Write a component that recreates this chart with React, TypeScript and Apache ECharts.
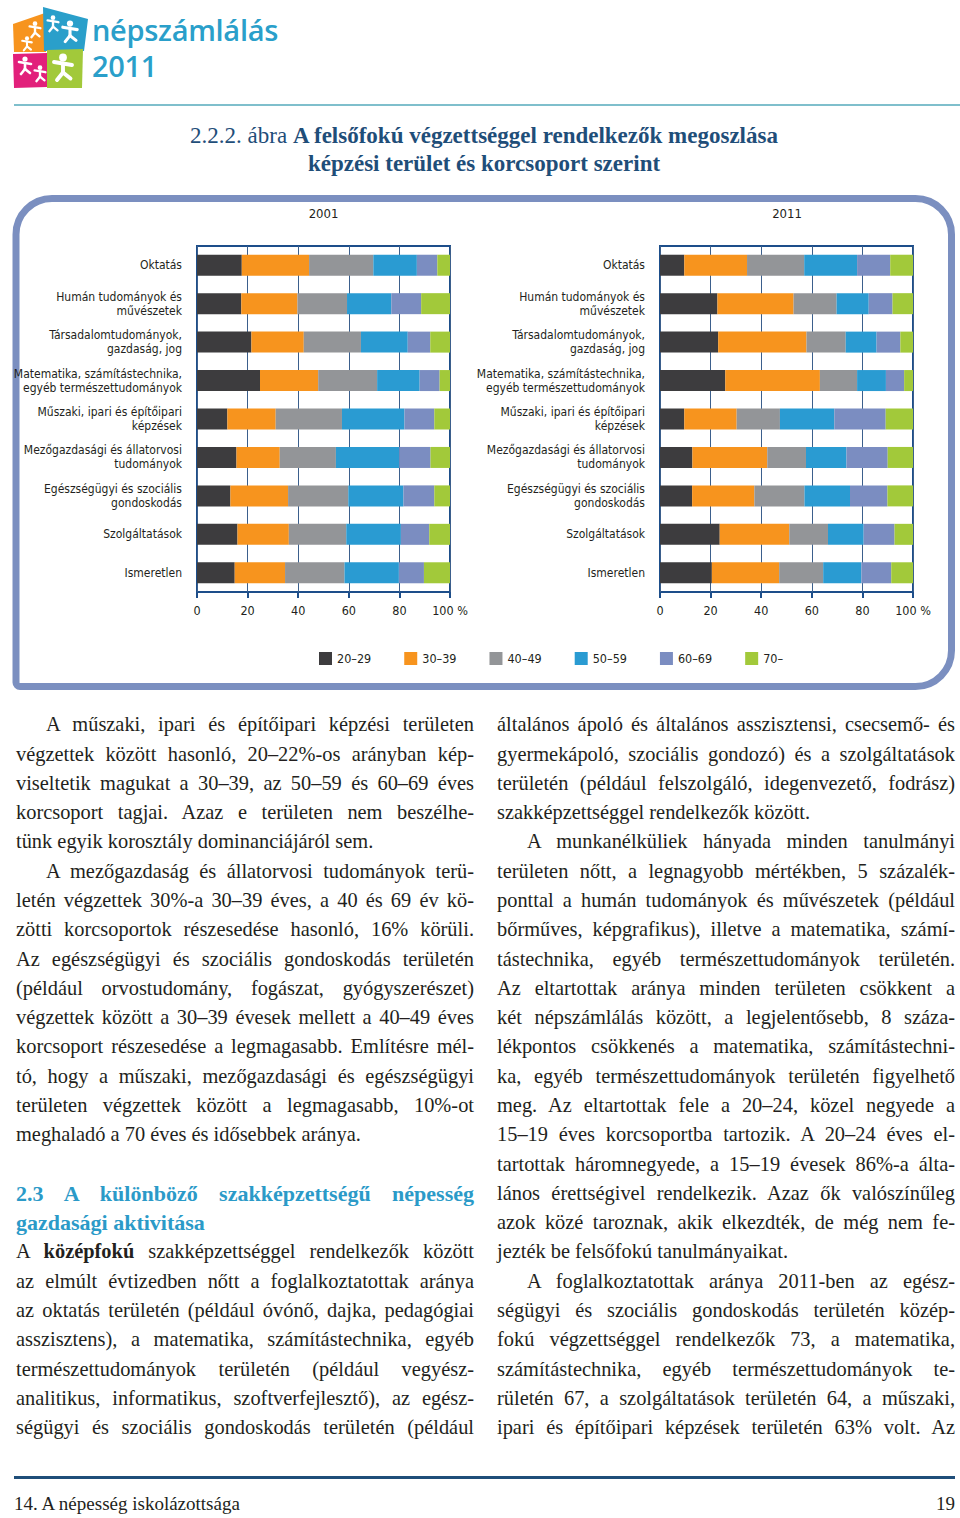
import React, { useEffect, useRef } from "react";
import * as echarts from "echarts";

// ---------- DATA ----------
const categories = [
  "Oktatás",
  "Humán tudományok és\nművészetek",
  "Társadalomtudományok,\ngazdaság, jog",
  "Matematika, számítástechnika,\negyéb természettudományok",
  "Műszaki, ipari és építőipari\nképzések",
  "Mezőgazdasági és állatorvosi\ntudományok",
  "Egészségügyi és szociális\ngondoskodás",
  "Szolgáltatások",
  "Ismeretlen",
];
const ageGroups = ["20–29", "30–39", "40–49", "50–59", "60–69", "70–"];
const years = ["2001", "2011"];
const xTicks = [0, 20, 40, 60, 80, 100];

const y2001_20_29 = [17.7, 17.5, 21.5, 24.9, 12.0, 15.6, 13.2, 16.0, 14.9];
const y2001_30_39 = [26.6, 22.2, 20.7, 23.0, 19.1, 17.1, 22.8, 20.3, 19.9];
const y2001_40_49 = [25.4, 19.6, 22.6, 23.3, 26.2, 22.2, 23.8, 22.7, 23.5];
const y2001_50_59 = [17.2, 17.5, 18.5, 16.8, 24.7, 25.0, 21.8, 21.6, 21.5];
const y2001_60_69 = [8.1, 11.8, 8.9, 7.9, 11.8, 12.4, 12.2, 11.2, 9.9];
const y2001_70 = [5.0, 11.4, 7.8, 4.1, 6.2, 7.7, 6.2, 8.2, 10.3];

const y2011_20_29 = [9.6, 22.7, 23.0, 25.8, 9.6, 12.8, 12.7, 23.6, 20.5];
const y2011_30_39 = [24.8, 30.1, 34.9, 37.4, 20.7, 29.6, 24.6, 27.5, 26.6];
const y2011_40_49 = [22.6, 17.0, 15.5, 14.7, 17.1, 15.3, 19.8, 15.3, 17.4];
const y2011_50_59 = [20.9, 12.7, 12.2, 11.4, 21.5, 16.0, 18.0, 14.1, 15.1];
const y2011_60_69 = [13.1, 9.4, 9.4, 7.2, 20.3, 16.3, 14.8, 12.2, 11.8];
const y2011_70 = [9.0, 8.1, 5.0, 3.5, 10.8, 10.0, 10.1, 7.3, 8.6];

const data2001 = [y2001_20_29, y2001_30_39, y2001_40_49, y2001_50_59, y2001_60_69, y2001_70];
const data2011 = [y2011_20_29, y2011_30_39, y2011_40_49, y2011_50_59, y2011_60_69, y2011_70];

// ---------- STYLE ----------
const colors = ["#3d3c3e", "#f7941e", "#939598", "#2a9bd2", "#7b8dc1", "#a2c93a"];
const COND = "'Liberation Sans Narrow', 'DejaVu Sans Condensed', 'Roboto Condensed', sans-serif";
const SERIF = "'Liberation Serif', 'DejaVu Serif', serif";
const TEXT = "#231f20";
const DARKBLUE = "#1d4e8a";

// ---------- BODY TEXT ----------
type Line = { t: string; indent?: boolean; last?: boolean; head?: boolean; slot: number };

const leftLines: Line[] = [
  { slot: 0, t: "A műszaki, ipari és építőipari képzési területen", indent: true },
  { slot: 1, t: "végzettek között hasonló, 20–22%-os arányban kép-" },
  { slot: 2, t: "viseltetik magukat a 30–39, az 50–59 és 60–69 éves" },
  { slot: 3, t: "korcsoport tagjai. Azaz e területen nem beszélhe-" },
  { slot: 4, t: "tünk egyik korosztály dominanciájáról sem.", last: true },
  { slot: 5, t: "A mezőgazdaság és állatorvosi tudományok terü-", indent: true },
  { slot: 6, t: "letén végzettek 30%-a 30–39 éves, a 40 és 69 év kö-" },
  { slot: 7, t: "zötti korcsoportok részesedése hasonló, 16% körüli." },
  { slot: 8, t: "Az egészségügyi és szociális gondoskodás területén" },
  { slot: 9, t: "(például orvostudomány, fogászat, gyógyszerészet)" },
  { slot: 10, t: "végzettek között a 30–39 évesek mellett a 40–49 éves" },
  { slot: 11, t: "korcsoport részesedése a legmagasabb. Említésre mél-" },
  { slot: 12, t: "tó, hogy a műszaki, mezőgazdasági és egészségügyi" },
  { slot: 13, t: "területen végzettek között a legmagasabb, 10%-ot" },
  { slot: 14, t: "meghaladó a 70 éves és idősebbek aránya.", last: true },
  { slot: 16, t: "2.3 A különböző szakképzettségű népesség", head: true },
  { slot: 17, t: "gazdasági aktivitása", head: true, last: true },
  { slot: 18, t: "A **középfokú** szakképzettséggel rendelkezők között" },
  { slot: 19, t: "az elmúlt évtizedben nőtt a foglalkoztatottak aránya" },
  { slot: 20, t: "az oktatás területén (például óvónő, dajka, pedagógiai" },
  { slot: 21, t: "asszisztens), a matematika, számítástechnika, egyéb" },
  { slot: 22, t: "természettudományok területén (például vegyész-" },
  { slot: 23, t: "analitikus, informatikus, szoftverfejlesztő), az egész-" },
  { slot: 24, t: "ségügyi és szociális gondoskodás területén (például" },
];

const rightLines: Line[] = [
  { slot: 0, t: "általános ápoló és általános asszisztensi, csecsemő- és" },
  { slot: 1, t: "gyermekápoló, szociális gondozó) és a szolgáltatások" },
  { slot: 2, t: "területén (például felszolgáló, idegenvezető, fodrász)" },
  { slot: 3, t: "szakképzettséggel rendelkezők között.", last: true },
  { slot: 4, t: "A munkanélküliek hányada minden tanulmányi", indent: true },
  { slot: 5, t: "területen nőtt, a legnagyobb mértékben, 5 százalék-" },
  { slot: 6, t: "ponttal a humán tudományok és művészetek (például" },
  { slot: 7, t: "bőrműves, képgrafikus), illetve a matematika, számí-" },
  { slot: 8, t: "tástechnika, egyéb természettudományok területén." },
  { slot: 9, t: "Az eltartottak aránya minden területen csökkent a" },
  { slot: 10, t: "két népszámlálás között, a legjelentősebb, 8 száza-" },
  { slot: 11, t: "lékpontos csökkenés a matematika, számítástechni-" },
  { slot: 12, t: "ka, egyéb természettudományok területén figyelhető" },
  { slot: 13, t: "meg. Az eltartottak fele a 20–24, közel negyede a" },
  { slot: 14, t: "15–19 éves korcsoportba tartozik. A 20–24 éves el-" },
  { slot: 15, t: "tartottak háromnegyede, a 15–19 évesek 86%-a álta-" },
  { slot: 16, t: "lános érettségivel rendelkezik. Azaz ők valószínűleg" },
  { slot: 17, t: "azok közé taroznak, akik elkezdték, de még nem fe-" },
  { slot: 18, t: "jezték be felsőfokú tanulmányaikat.", last: true },
  { slot: 19, t: "A foglalkoztatottak aránya 2011-ben az egész-", indent: true },
  { slot: 20, t: "ségügyi és szociális gondoskodás területén közép-" },
  { slot: 21, t: "fokú végzettséggel rendelkezők 73, a matematika," },
  { slot: 22, t: "számítástechnika, egyéb természettudományok te-" },
  { slot: 23, t: "rületén 67, a szolgáltatások területén 64, a műszaki," },
  { slot: 24, t: "ipari és építőipari képzések területén 63% volt. Az" },
];

const LINE_H = 29.28;
const FIRST_CENTER = 725;

function renderParts(t: string) {
  return t.split("**").map((p, i) =>
    i % 2 === 1 ? <b key={i}>{p}</b> : <span key={i}>{p}</span>
  );
}

function Column({ lines, left, width }: { lines: Line[]; left: number; width: number }) {
  return (
    <>
      {lines.map((l, i) => {
        const ind = l.indent ? 30 : 0;
        return (
          <div
            key={i}
            style={{
              position: "absolute",
              left: left + ind,
              width: width - ind,
              top: FIRST_CENTER - LINE_H / 2 + l.slot * LINE_H,
              height: LINE_H,
              lineHeight: LINE_H + "px",
              fontFamily: SERIF,
              fontSize: l.head ? 22 : 20.4,
              fontWeight: l.head ? 700 : 400,
              color: l.head ? "#2b9ac8" : TEXT,
              textAlign: "justify",
              textAlignLast: l.last ? "left" : "justify",
              overflow: "visible",
            } as React.CSSProperties}
          >
            {renderParts(l.t)}
          </div>
        );
      })}
    </>
  );
}

function Logo() {
  const fig = (cx: number, cy: number, s: number, k: number) => (
    <g key={k} transform={`translate(${cx},${cy}) scale(${s})`} stroke="#fff" strokeWidth={2.6} strokeLinecap="round" fill="none">
      <circle cx={0} cy={-7} r={2.6} fill="#fff" stroke="none" />
      <line x1={-6} y1={-4} x2={6} y2={-2} />
      <line x1={0} y1={-3} x2={0} y2={3} />
      <line x1={0} y1={3} x2={-4} y2={8} />
      <line x1={0} y1={3} x2={5} y2={7} />
    </g>
  );
  return (
    <svg width={100} height={100} style={{ position: "absolute", left: 0, top: 0 }}>
      <polygon points="13,24 45,13 46,52 14,52" fill="#f7941e" />
      <polygon points="43,7 88,19 84,51 44,51" fill="#2a9fca" />
      <polygon points="13,54 47,53 47,87 14,88" fill="#e2207b" />
      <polygon points="47,50 83,49 82,88 47,88" fill="#a2c93a" />
      {fig(35, 30, 0.9, 1)}
      {fig(27, 44, 0.8, 2)}
      {fig(53, 24, 0.9, 3)}
      {fig(70, 32, 1.2, 4)}
      {fig(25, 66, 1.0, 5)}
      {fig(40, 74, 0.9, 6)}
      {fig(63, 68, 1.5, 7)}
    </svg>
  );
}

// ---------- CHART ----------
const CHART_TOP = 185;

function Chart() {
  const ref = useRef<HTMLDivElement>(null);
  useEffect(() => {
    if (!ref.current) return;
    const chart = echarts.init(ref.current, null, { renderer: "svg" });
    const grids = [
      { left: 197, right: 510 },
      { left: 660, right: 47 },
    ];
    const series: any[] = [];
    [data2001, data2011].forEach((ds, gi) => {
      ds.forEach((vals, ai) => {
        series.push({
          type: "bar",
          name: ageGroups[ai],
          stack: "y" + years[gi],
          xAxisIndex: gi,
          yAxisIndex: gi,
          data: vals,
          barWidth: 21,
          itemStyle: { color: colors[ai] },
          emphasis: { disabled: true },
        });
      });
    });
    const option: any = {
      animation: false,
      textStyle: { fontFamily: COND },
      graphic: [
        {
          type: "rect",
          silent: true,
          z: -10,
          shape: { x: 16, y: 13.5, width: 935.5, height: 488, r: [36, 36, 36, 4] },
          style: { fill: "none", stroke: "#7b8fc0", lineWidth: 7 },
        },
        {
          type: "text",
          x: 323.5,
          y: 28,
          style: { text: years[0], fontSize: 13, fontFamily: COND, fill: TEXT, align: "center", verticalAlign: "middle" },
        },
        {
          type: "text",
          x: 787,
          y: 28,
          style: { text: years[1], fontSize: 13, fontFamily: COND, fill: TEXT, align: "center", verticalAlign: "middle" },
        },
      ],
      legend: {
        data: ageGroups,
        left: 314,
        top: 462,
        icon: "rect",
        itemWidth: 13,
        itemHeight: 13,
        itemGap: 33,
        selectedMode: false,
        textStyle: { fontSize: 12.5, color: TEXT, fontFamily: COND },
      },
      grid: grids.map((g) => ({
        left: g.left,
        right: g.right,
        top: 61,
        height: 346,
        show: true,
        borderColor: DARKBLUE,
        borderWidth: 2,
        backgroundColor: "#ffffff",
      })),
      xAxis: grids.map((_, i) => ({
        type: "value",
        gridIndex: i,
        min: xTicks[0],
        max: xTicks[xTicks.length - 1],
        interval: 20,
        axisLine: { show: false },
        axisTick: { show: true, length: 6, lineStyle: { color: DARKBLUE, width: 2 } },
        splitLine: { show: true, lineStyle: { color: "#3b5f8c", width: 1 } },
        axisLabel: {
          margin: 12,
          fontSize: 12.5,
          color: TEXT,
          fontFamily: COND,
          formatter: (v: number) => (v === 100 ? "100 %" : String(v)),
          align: "center",
        },
      })),
      yAxis: grids.map((_, i) => ({
        type: "category",
        gridIndex: i,
        data: categories,
        inverse: true,
        axisLine: { show: false },
        axisTick: { show: false },
        splitLine: { show: false },
        axisLabel: { margin: 15, fontSize: 12, lineHeight: 14, color: TEXT, fontFamily: COND, align: "right" },
      })),
      series,
    };
    chart.setOption(option);
    return () => chart.dispose();
  }, []);
  return (
    <div
      ref={ref}
      style={{ position: "absolute", left: 0, top: CHART_TOP, width: 960, height: 520 }}
    />
  );
}

const logoText: React.CSSProperties = {
  position: "absolute",
  left: 92,
  fontFamily: "'Open Sans', 'Noto Sans', sans-serif",
  fontWeight: 600,
  fontSize: 29,
  lineHeight: "30px",
  height: 30,
  color: "#2a9fca",
  letterSpacing: -0.3,
  whiteSpace: "nowrap",
};

export default function App() {
  return (
    <div
      style={{
        position: "absolute",
        left: 0,
        top: 0,
        width: 960,
        height: 1518,
        background: "#ffffff",
        overflow: "hidden",
      }}
    >
      <Logo />
      <div style={{ ...logoText, top: 15 }}>népszámlálás</div>
      <div style={{ ...logoText, top: 51 }}>2011</div>
      <div style={{ position: "absolute", left: 14, top: 104, width: 946, height: 2, background: "#7fbfcc" }} />
      <div
        style={{
          position: "absolute",
          left: 0,
          width: 968,
          top: 122,
          textAlign: "center",
          fontFamily: SERIF,
          fontSize: 23,
          lineHeight: "28px",
          color: "#1f4e79",
          whiteSpace: "nowrap",
        }}
      >
        <span>2.2.2. ábra </span>
        <b>A felsőfokú végzettséggel rendelkezők megoszlása</b>
        <br />
        <b>képzési terület és korcsoport szerint</b>
      </div>
      <Chart />
      <Column lines={leftLines} left={16} width={458} />
      <Column lines={rightLines} left={497} width={458} />
      <div style={{ position: "absolute", left: 14, top: 1476, width: 941, height: 3, background: "#1f4e79" }} />
      <div
        style={{
          position: "absolute",
          left: 14,
          top: 1491,
          fontFamily: SERIF,
          fontSize: 19,
          lineHeight: "26px",
          color: TEXT,
          whiteSpace: "nowrap",
        }}
      >
        14. A népesség iskolázottsága
      </div>
      <div
        style={{
          position: "absolute",
          right: 5,
          top: 1491,
          fontFamily: SERIF,
          fontSize: 19,
          lineHeight: "26px",
          color: TEXT,
        }}
      >
        19
      </div>
    </div>
  );
}
